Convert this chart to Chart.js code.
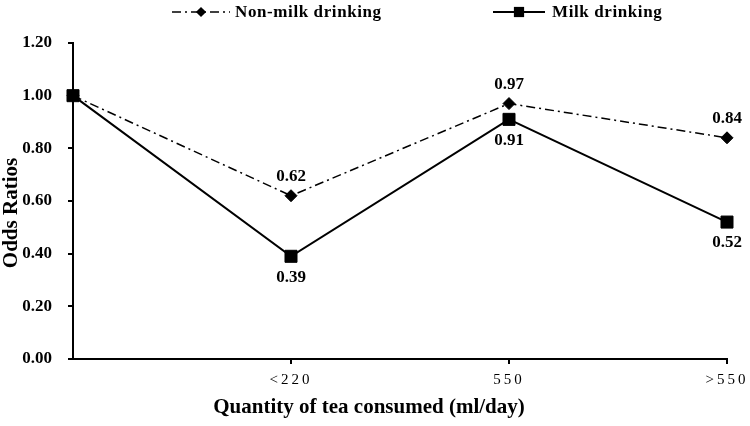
<!DOCTYPE html>
<html><head><meta charset="utf-8">
<script src="https://cdn.jsdelivr.net/npm/chart.js@4/dist/chart.umd.min.js"></script>
<style>html,body{margin:0;padding:0;background:#fff}#wrap{width:750px;height:426px}</style>
</head><body><div id="wrap"><canvas id="c" width="750" height="426"></canvas></div>
<script>
// ---- data ----
const categories = ['Reference', '<220', '550', '>550'];
const seriesNames = ['Non-milk drinking', 'Milk drinking'];
const nonMilk = [1.00, 0.62, 0.97, 0.84];
const milk = [1.00, 0.39, 0.91, 0.52];
const xTickLabels = ['<220', '550', '>550'];
const yTickLabels = ['0.00', '0.20', '0.40', '0.60', '0.80', '1.00', '1.20'];
const xTitle = 'Quantity of tea consumed (ml/day)';
const yTitle = 'Odds Ratios';

const FONT = "'Liberation Serif', 'Times New Roman', serif";

const toPoints = arr => arr.map((v, i) => ({x: i, y: v}));

const valueLabels = {
  id: 'valueLabels',
  afterDatasetsDraw(chart) {
    const ctx = chart.ctx;
    ctx.save();
    ctx.font = "bold 17px " + FONT;
    ctx.fillStyle = '#000';
    ctx.textAlign = 'center';
    ctx.textBaseline = 'middle';
    chart.data.datasets.forEach((ds, di) => {
      const meta = chart.getDatasetMeta(di);
      meta.data.forEach((pt, i) => {
        if (i === 0) return;
        const v = ds.data[i].y;
        const dy = ds.labelSide === 'above' ? -19 : 21;
        ctx.fillText(v.toFixed(2), pt.x, pt.y + dy);
      });
    });
    ctx.restore();
  }
};

// axis titles + spaced tick labels
const axisText = {
  id: 'axisText',
  beforeDraw(chart) {
    const s = chart.scales.x;
    if (s && !s._spaced) {
      const orig = s.drawLabels.bind(s);
      s.drawLabels = (area) => {
        chart.ctx.save();
        chart.ctx.letterSpacing = '3px';
        orig(area);
        chart.ctx.restore();
      };
      s._spaced = true;
    }
  },
  afterDraw(chart) {
    const ctx = chart.ctx;
    ctx.save();
    ctx.fillStyle = '#000';
    ctx.font = "bold 21px " + FONT;
    ctx.textAlign = 'center';
    ctx.textBaseline = 'middle';
    ctx.fillText(xTitle, 369, 408);
    ctx.translate(12, 213);
    ctx.rotate(-Math.PI / 2);
    ctx.fillText(yTitle, 0, 0);
    ctx.restore();
  }
};

const customLegend = {
  id: 'customLegend',
  afterDraw(chart) {
    const ctx = chart.ctx;
    const slots = [[172, 230, 235], [493, 545, 552]];
    const y = 12;
    chart.data.datasets.forEach((ds, di) => {
      const [x0, x1, tx] = slots[di];
      ctx.save();
      ctx.strokeStyle = '#000';
      ctx.lineWidth = ds.borderWidth;
      ctx.setLineDash(ds.borderDash || []);
      ctx.beginPath(); ctx.moveTo(x0, y); ctx.lineTo(x1, y); ctx.stroke();
      ctx.setLineDash([]);
      ctx.fillStyle = '#000';
      Chart.helpers.drawPoint(ctx, {pointStyle: ds.pointStyle, radius: ds.pointRadius * 0.85, rotation: 0, borderWidth: 0}, (x0 + x1) / 2, y);
      ctx.font = "bold 17px " + FONT;
      ctx.letterSpacing = '0.6px';
      ctx.textAlign = 'left';
      ctx.textBaseline = 'middle';
      ctx.fillText(ds.label, tx, y + 1);
      ctx.restore();
    });
  }
};

new Chart(document.getElementById('c'), {
  type: 'line',
  data: {
    datasets: [
      {
        label: seriesNames[0], data: toPoints(nonMilk), labelSide: 'above',
        borderColor: '#000', borderWidth: 1.5, borderDash: [9, 4, 2, 4],
        pointStyle: 'rectRot', pointRadius: 6, pointBackgroundColor: '#000', pointBorderColor: '#000', pointBorderWidth: 1,
        clip: false, tension: 0
      },
      {
        label: seriesNames[1], data: toPoints(milk), labelSide: 'below',
        borderColor: '#000', borderWidth: 2,
        pointStyle: 'rect', pointRadius: 8.5, pointBackgroundColor: '#000', pointBorderColor: '#000', pointBorderWidth: 1,
        clip: false, tension: 0
      }
    ]
  },
  options: {
    responsive: false, animation: false,
    layout: {padding: {top: 43, right: 23, bottom: 0, left: 0}},
    plugins: {legend: {display: false}, tooltip: {enabled: false}},
    scales: {
      x: {
        type: 'linear', position: 'bottom', min: 0, max: categories.length - 1,
        afterBuildTicks: s => { s.ticks = xTickLabels.map((_, i) => ({value: i + 1})); },
        afterFit: s => { s.height = 67; },
        ticks: {
          callback: v => xTickLabels[v - 1], color: '#000', autoSkip: false, maxRotation: 0,
          font: {family: FONT, size: 15}, padding: 7
        },
        grid: {display: true, drawOnChartArea: false, drawTicks: true, tickLength: 5, color: '#000', lineWidth: 2},
        border: {display: true, color: '#000', width: 2},
        title: {display: false}
      },
      y: {
        min: 0, max: 1.2,
        afterBuildTicks: s => { s.ticks = yTickLabels.map(t => ({value: parseFloat(t)})); },
        afterFit: s => { s.width = 73; },
        ticks: {
          callback: (v, i) => yTickLabels[i], color: '#000',
          font: {family: FONT, size: 17, weight: 'bold'}, padding: 16
        },
        grid: {display: true, drawOnChartArea: false, drawTicks: true, tickLength: 5, color: '#000', lineWidth: 2},
        border: {display: true, color: '#000', width: 2},
        title: {display: false}
      }
    }
  },
  plugins: [valueLabels, axisText, customLegend]
});
</script>
</body></html>
